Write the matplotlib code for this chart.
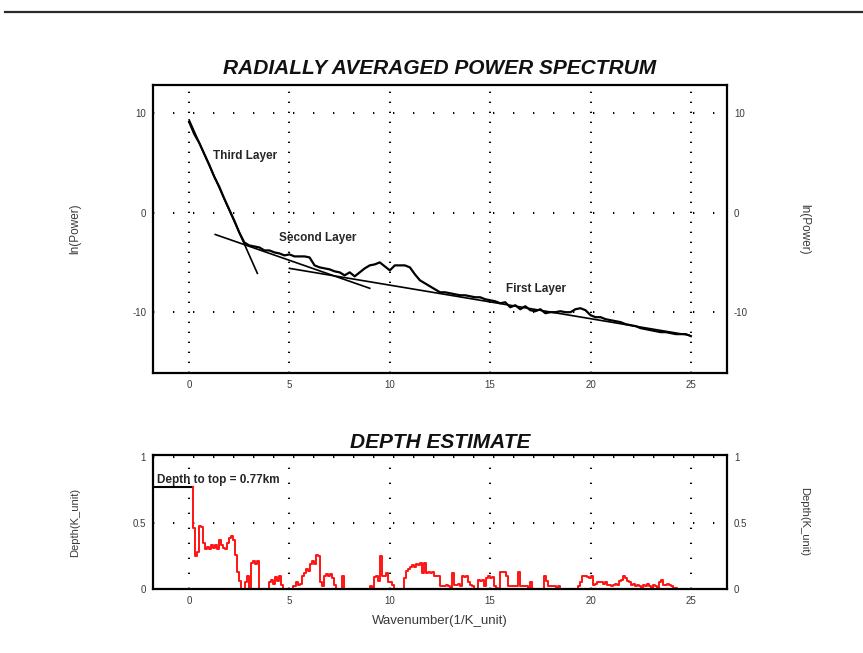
import matplotlib.pyplot as plt
import numpy as np
from matplotlib.lines import Line2D

plt.rcParams['font.family'] = ['Liberation Sans', 'DejaVu Sans']
plt.rcParams['axes.unicode_minus'] = False

# radially averaged power spectrum, sampled every 0.25 wavenumber units
power_vals = [
    9.1, 7.9, 7.0, 5.9, 4.8, 3.6, 2.6, 1.4, 0.3, -0.8, -2.0, -3.0,
    -3.3, -3.4, -3.5, -3.8, -3.8, -4.0, -4.1, -4.3, -4.2, -4.4, -4.4, -4.4,
    -4.5, -5.3, -5.5, -5.6, -5.7, -5.9, -6.0, -6.3, -6.0, -6.4, -6.0, -5.6,
    -5.3, -5.2, -5.0, -5.4, -5.8, -5.3, -5.3, -5.3, -5.5, -6.2, -6.8, -7.1,
    -7.4, -7.7, -8.0, -8.0, -8.1, -8.2, -8.3, -8.3, -8.4, -8.5, -8.5, -8.7,
    -8.8, -8.9, -9.1, -9.0, -9.5, -9.3, -9.7, -9.4, -9.8, -9.9, -9.7, -10.1,
    -10.0, -10.0, -9.9, -10.0, -10.0, -9.7, -9.6, -9.8, -10.3, -10.5, -10.5, -10.7,
    -10.8, -10.9, -11.0, -11.2, -11.3, -11.4, -11.6, -11.7, -11.8, -11.9, -12.0, -12.0,
    -12.1, -12.2, -12.2, -12.2, -12.4,
]
power_k = 0.25 * np.arange(len(power_vals))

# straight-line fits for the three layers (wavenumber, ln power)
third_k, third_p = [0.0, 3.4], [9.3, -6.1]
second_k, second_p = [1.3, 9.0], [-2.2, -7.6]
first_k, first_p = [5.0, 24.9], [-5.6, -12.3]

# depth estimate, sampled every 0.1 wavenumber units starting at 0.2
depth_vals = [
    0.77, 0.46, 0.25, 0.28, 0.48, 0.47, 0.35, 0.30,
    0.32, 0.30, 0.33, 0.31, 0.33, 0.30, 0.37, 0.33, 0.31, 0.30,
    0.35, 0.39, 0.40, 0.37, 0.26, 0.13, 0.06, 0.00, 0.00, 0.05,
    0.10, 0.00, 0.20, 0.21, 0.19, 0.21, 0.00, 0.00, 0.00, 0.00,
    0.00, 0.05, 0.07, 0.04, 0.09, 0.06, 0.10, 0.03, 0.00, 0.00,
    0.00, 0.00, 0.00, 0.02, 0.05, 0.03, 0.04, 0.10, 0.12, 0.15,
    0.14, 0.19, 0.21, 0.19, 0.26, 0.25, 0.05, 0.02, 0.10, 0.11,
    0.10, 0.11, 0.08, 0.03, 0.00, 0.00, 0.00, 0.10, 0.00, 0.00,
    0.00, 0.00, 0.00, 0.00, 0.00, 0.00, 0.00, 0.00, 0.00, 0.00,
    0.00, 0.02, 0.00, 0.09, 0.10, 0.06, 0.25, 0.10, 0.10, 0.12,
    0.05, 0.05, 0.03, 0.00, 0.00, 0.00, 0.00, 0.00, 0.08, 0.14,
    0.15, 0.17, 0.18, 0.17, 0.19, 0.18, 0.20, 0.12, 0.20, 0.12,
    0.13, 0.12, 0.13, 0.10, 0.10, 0.10, 0.02, 0.02, 0.02, 0.03,
    0.02, 0.00, 0.12, 0.03, 0.03, 0.04, 0.02, 0.10, 0.09, 0.10,
    0.05, 0.03, 0.02, 0.00, 0.00, 0.07, 0.06, 0.07, 0.02, 0.08,
    0.10, 0.08, 0.09, 0.02, 0.01, 0.00, 0.13, 0.13, 0.13, 0.10,
    0.02, 0.02, 0.02, 0.02, 0.02, 0.13, 0.02, 0.02, 0.02, 0.02,
    0.00, 0.05, 0.00, 0.00, 0.00, 0.00, 0.00, 0.00, 0.10, 0.06,
    0.02, 0.02, 0.02, 0.02, 0.00, 0.02, 0.00, 0.00, 0.00, 0.00,
    0.00, 0.00, 0.00, 0.00, 0.00, 0.02, 0.05, 0.10, 0.10, 0.09,
    0.08, 0.10, 0.03, 0.04, 0.05, 0.05, 0.05, 0.04, 0.05, 0.03,
    0.03, 0.02, 0.03, 0.04, 0.03, 0.06, 0.07, 0.10, 0.08, 0.06,
    0.05, 0.03, 0.04, 0.02, 0.03, 0.02, 0.00, 0.03, 0.02, 0.04,
    0.02, 0.01, 0.03, 0.02, 0.01, 0.05, 0.07, 0.03, 0.03, 0.04,
    0.03, 0.02, 0.01, 0.01, 0.00, 0.00, 0.00,
]
depth_k = 0.2 + 0.1 * np.arange(len(depth_vals))
depth_to_top = 0.77

x_ticks = [0, 5, 10, 15, 20, 25]
power_ticks = [-10, 0, 10]
depth_ticks = [0, 0.5, 1]
depth_tick_labels = ['0', '0.5', '1']

x_range = (-1.8, 26.8)
tick_color = '#3a3a3a'
text_color = '#262626'


def style_axes(ax):
    for s in ax.spines.values():
        s.set_linewidth(1.6)
        s.set_color('black')
    ax.tick_params(length=0, labelsize=7, colors=tick_color, pad=5,
                   right=True, labelright=True)


fig = plt.figure(figsize=(8.63, 6.53), dpi=100)
fig.add_artist(Line2D([0.006, 1.0], [0.981, 0.981], color='#2a2a2a', lw=1.6))

# --- power spectrum panel ---
ax1 = fig.add_axes([0.1773, 0.4288, 0.6651, 0.441])
ax1.plot(power_k, power_vals, color='black', lw=1.6)
ax1.plot(third_k, third_p, color='black', lw=1.2)
ax1.plot(second_k, second_p, color='black', lw=1.2)
ax1.plot(first_k, first_p, color='black', lw=1.2)
ax1.set_xlim(*x_range)
ax1.set_ylim(-16.1, 12.8)
ax1.set_xticks(x_ticks)
ax1.set_yticks(power_ticks)
ax1.xaxis.grid(True, color='black', lw=1.5, linestyle=(0, (0.64, 4.16)))
ax1.yaxis.grid(True, color='black', lw=1.5, linestyle=(0, (0.64, 8.96)))
style_axes(ax1)
ax1.set_title('RADIALLY AVERAGED POWER SPECTRUM', fontsize=15,
              fontweight='bold', style='italic', color='#111111', pad=8)
ax1.text(-0.136, 0.5, 'ln(Power)', transform=ax1.transAxes, rotation=90,
         ha='center', va='center', fontsize=8.5, color=tick_color)
ax1.text(1.134, 0.5, 'ln(Power)', transform=ax1.transAxes, rotation=270,
         ha='center', va='center', fontsize=8.5, color=tick_color)
label_style = dict(fontsize=8.5, fontweight='bold', color=text_color)
ax1.text(1.2, 5.4, 'Third Layer', **label_style)
ax1.text(4.5, -2.9, 'Second Layer', **label_style)
ax1.text(15.8, -8.0, 'First Layer', **label_style)

# --- depth estimate panel ---
ax2 = fig.add_axes([0.1773, 0.098, 0.6651, 0.2052])
ax2.plot([x_range[0], depth_k[0]], [depth_to_top, depth_to_top],
         color='black', lw=1.5)
ax2.plot(depth_k, depth_vals, color='#ff1414', lw=1.4, drawstyle='steps-pre')
ax2.set_xlim(*x_range)
ax2.set_ylim(0, 1.015)
ax2.set_xticks(x_ticks)
ax2.set_yticks(depth_ticks)
ax2.set_yticklabels(depth_tick_labels)
ax2.xaxis.grid(True, color='black', lw=1.5, linestyle=(0, (0.64, 6.56)))
ax2.yaxis.grid(True, color='black', lw=1.5, linestyle=(0, (0.64, 8.96)))
style_axes(ax2)
ax2.set_title('DEPTH ESTIMATE', fontsize=15, fontweight='bold',
              style='italic', color='#111111', pad=5)
ax2.text(-0.136, 0.5, 'Depth(K_unit)', transform=ax2.transAxes, rotation=90,
         ha='center', va='center', fontsize=8, color=tick_color)
ax2.text(1.134, 0.5, 'Depth(K_unit)', transform=ax2.transAxes, rotation=270,
         ha='center', va='center', fontsize=8, color=tick_color)
ax2.text(-1.6, 0.8, f'Depth to top = {depth_to_top}km', **label_style)
ax2.text(0.5, -0.24, 'Wavenumber(1/K_unit)', transform=ax2.transAxes,
         ha='center', va='center', fontsize=9.5, color=tick_color)

fig.savefig('out.png', dpi=100)
